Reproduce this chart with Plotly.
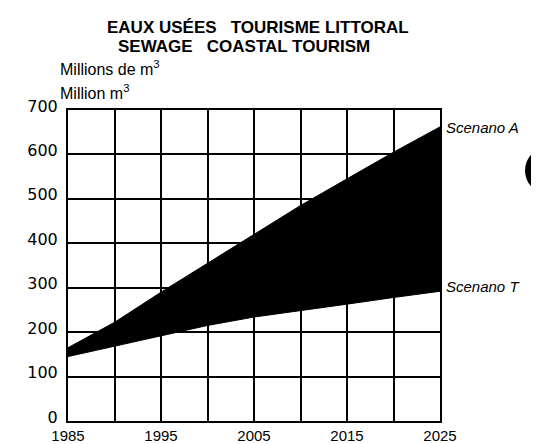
import plotly.graph_objects as go

years = [1985, 1990, 1995, 2000, 2005, 2010, 2015, 2020, 2025]
scenario_a = [165, 222, 290, 355, 420, 485, 545, 605, 662]
scenario_t = [145, 168, 192, 215, 234, 248, 263, 278, 292]
y_ticks = [0, 100, 200, 300, 400, 500, 600, 700]
x_ticks = [1985, 1995, 2005, 2015, 2025]

W, H = 539, 444
L, R, T, B = 60, 107, 102, 31
pw, ph = W - L - R, H - T - B

def px(x):
    return (x - L) / pw

def py(y):
    return (H - B - y) / ph

fig = go.Figure()
fig.add_trace(go.Scatter(x=years, y=scenario_t, mode="lines",
                         line=dict(color="black", width=1), showlegend=False))
fig.add_trace(go.Scatter(x=years, y=scenario_a, mode="lines", fill="tonexty",
                         fillcolor="black", line=dict(color="black", width=1),
                         showlegend=False))

fnt = "Liberation Sans, Arial, sans-serif"
wide = "DejaVu Sans, Liberation Sans, sans-serif"
narrow = "Liberation Sans Narrow, Arial Narrow, Liberation Sans, sans-serif"

fig.update_layout(
    template="none",
    width=W, height=H,
    margin=dict(l=L, r=R, t=T, b=B, autoexpand=False),
    paper_bgcolor="white", plot_bgcolor="white",
    xaxis=dict(range=[1985, 2025], tickvals=x_ticks, showgrid=True,
               gridcolor="black", gridwidth=2, automargin=False,
               minor=dict(dtick=5, tick0=1985, showgrid=True, gridcolor="black", gridwidth=2),
               showline=True, linecolor="black", linewidth=2, mirror=True,
               ticks="", zeroline=False, ticklabelstandoff=0,
               tickfont=dict(family=narrow, size=15, color="black")),
    yaxis=dict(range=[0, 700], tickvals=y_ticks, showgrid=True,
               gridcolor="black", gridwidth=2, automargin=False,
               showline=True, linecolor="black", linewidth=2, mirror=True,
               ticks="", zeroline=False, ticklabelstandoff=5, ticklabelshift=-4,
               tickfont=dict(family=wide, size=16, color="black")),
    font=dict(family=fnt, color="black"),
)

ann = [
    dict(text="<b>EAUX USÉES   TOURISME LITTORAL</b>", x=px(250), y=py(19), size=17),
    dict(text="<b>SEWAGE   COASTAL TOURISM</b>", x=px(236), y=py(38), size=17),
]
for a in ann:
    fig.add_annotation(text=a["text"], xref="paper", yref="paper", x=a["x"], y=a["y"],
                       xanchor="center", yanchor="middle", showarrow=False,
                       font=dict(family=fnt, size=a["size"], color="black"))

for txt, yy in [("Millions de m<sup>3</sup>", 60), ("Million m<sup>3</sup>", 84)]:
    fig.add_annotation(text=txt, xref="paper", yref="paper", x=px(50), y=py(yy),
                       xanchor="left", yanchor="middle", showarrow=False,
                       font=dict(family=fnt, size=16, color="black"))

fig.add_annotation(text="<i>Scenano A</i>", x=years[-1], y=scenario_a[-1], xref="x", yref="y",
                   xanchor="left", yanchor="middle", xshift=4, yshift=-1, showarrow=False,
                   font=dict(family=fnt, size=15, color="black"))
fig.add_annotation(text="<i>Scenano T</i>", x=years[-1], y=scenario_t[-1], xref="x", yref="y",
                   xanchor="left", yanchor="middle", xshift=4, yshift=5, showarrow=False,
                   font=dict(family=fnt, size=15, color="black"))

# hole-punch blob at right edge
fig.add_shape(type="circle", xref="paper", yref="paper",
              x0=px(517), x1=px(563), y0=py(186), y1=py(139),
              fillcolor="black", line=dict(color="black", width=0))

fig.write_html("out.html")
